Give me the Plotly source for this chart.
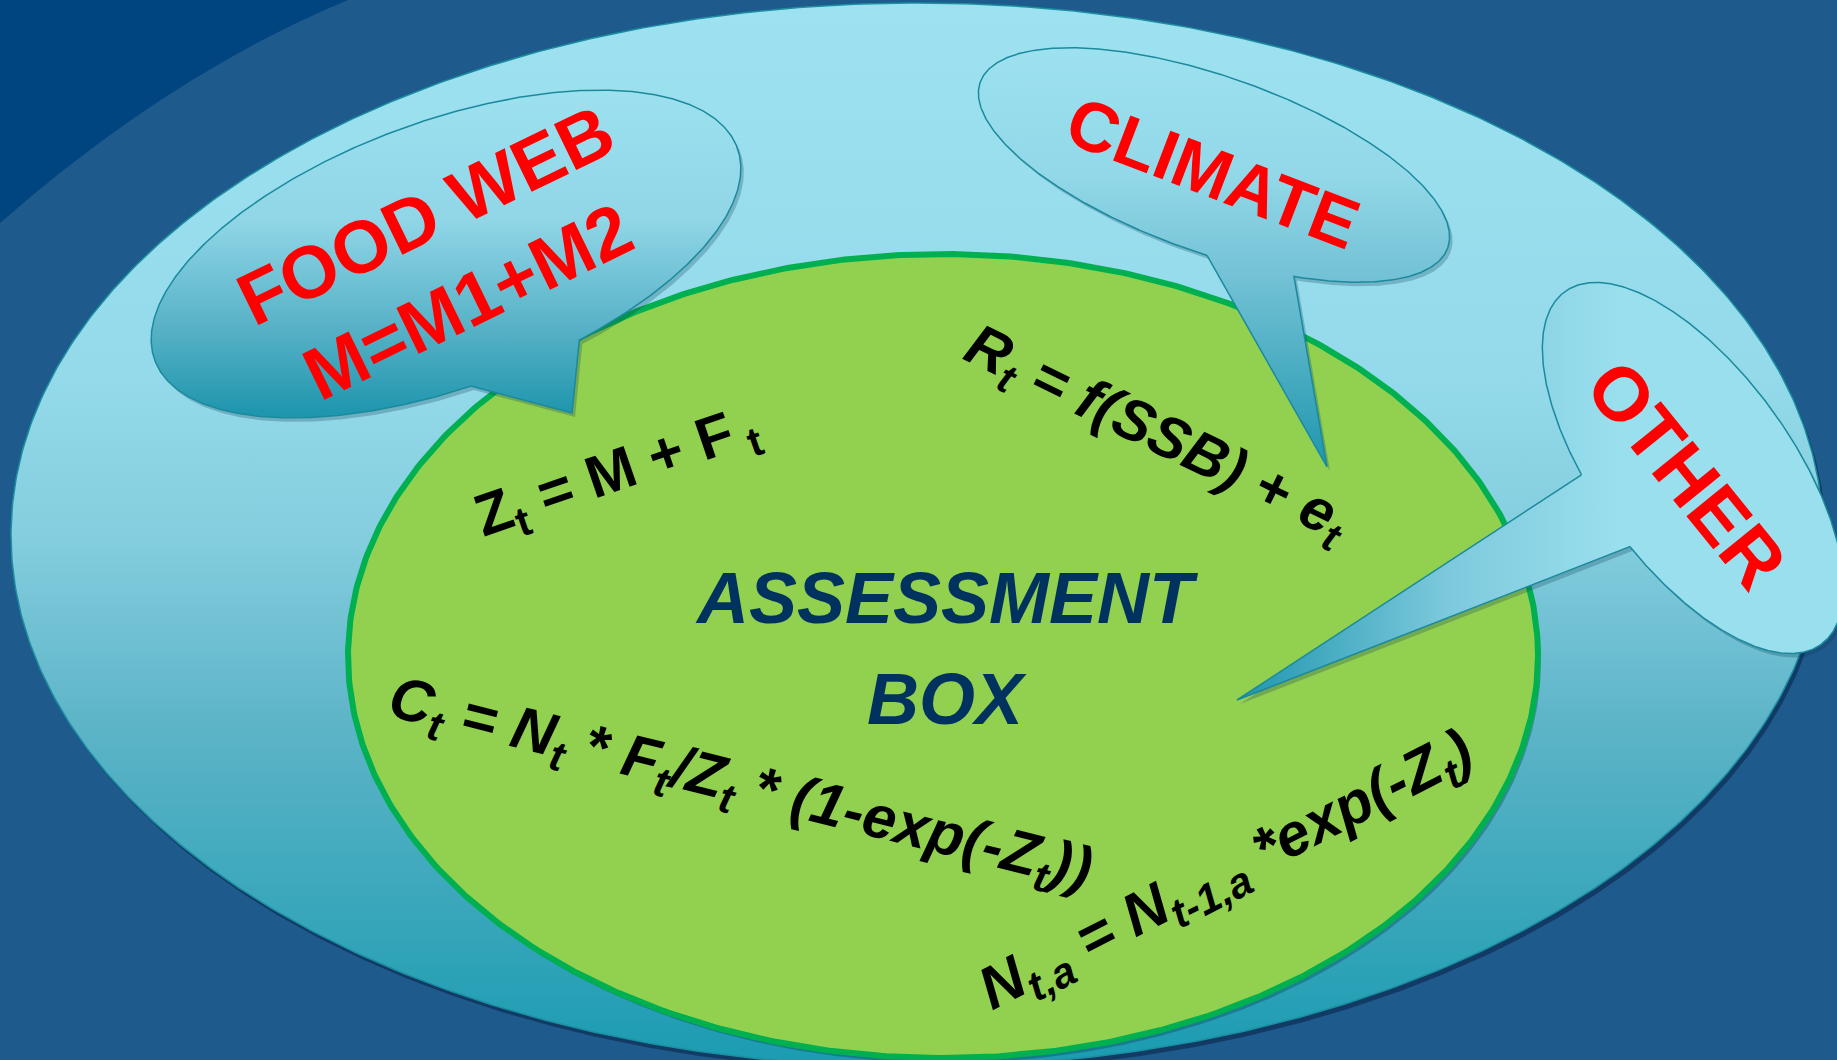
import numpy as np
import plotly.graph_objects as go

W, H = 1837, 1060

# ---------------- text content ----------------
bubble_labels = ["<b>FOOD WEB<br>M=M1+M2</b>", "<b>CLIMATE</b>", "<b>OTHER</b>"]
centre_labels = ["<b><i>ASSESSMENT</i></b>", "<b><i>BOX</i></b>"]
equation_texts = [
    "<b>Z<sub>t</sub> = M + F<sub> t</sub></b>",
    "<b><i>R<sub>t</sub> = f(SSB) + e<sub>t</sub></i></b>",
    "<b><i>C<sub>t</sub> = N<sub>t</sub> * F<sub>t</sub>/Z<sub>t</sub> * (1-exp(-Z<sub>t</sub>))</i></b>",
    "<b><i>N<sub>t,a</sub> = N<sub>t-1,a</sub> *exp(-Z<sub>t</sub>)</i></b>",
]

# ---------------- geometry (pixel space, y downwards) ----------------
ell_cx = [917, 943]
ell_cy = [535, 656]
ell_a = [906, 595]
ell_b = [532, 402]

bub_cx = [446, 1214, 1693]
bub_cy = [254, 165, 468]
bub_a = [310, 248, 218]
bub_b = [133, 88, 98]
bub_tilt = [-20, 19.5, 54]
bub_base1 = [(469, 378), (1207, 257), (1588, 472)]
bub_base2 = [(578, 337), (1295, 275), (1637, 540)]
bub_tip = [(572, 413), (1327, 467), (1237, 700)]

bub_text_x = [446, 1213, 1687]
bub_text_y = [258, 173, 474]
bub_text_angle = [-26, 21, 51]
bub_text_size = [74, 70, 76]

centre_x = [947, 947]
centre_y = [598, 699]
centre_size = [72, 72]

eq_x = [617, 1157, 740, 1227]
eq_y = [474, 436, 787, 873]
eq_angle = [-19, 26, 14, -27]
eq_size = [59, 59, 60, 60]

SANS = "Liberation Sans, Arial, sans-serif"


def ellipse(cx, cy, a, b, tilt=0.0, n=721):
    t = np.linspace(0, 2 * np.pi, n)
    ph = np.radians(tilt)
    x = cx + a * np.cos(t) * np.cos(ph) - b * np.sin(t) * np.sin(ph)
    y = cy + a * np.cos(t) * np.sin(ph) + b * np.sin(t) * np.cos(ph)
    return x, y


def bubble(cx, cy, a, b, tilt, p1, p2, tip, n=720):
    x, y = ellipse(cx, cy, a, b, tilt, n + 1)
    x, y = x[:-1], y[:-1]
    i1 = int(np.argmin((x - p1[0]) ** 2 + (y - p1[1]) ** 2))
    i2 = int(np.argmin((x - p2[0]) ** 2 + (y - p2[1]) ** 2))
    d = (i2 - i1) % n
    if d > n / 2:
        i1, i2 = i2, i1
        d = n - d
    idx = [(i2 + k) % n for k in range(n - d + 1)]
    xs = list(x[idx]) + [tip[0], x[i2]]
    ys = list(y[idx]) + [tip[1], y[i2]]
    return np.array(xs), np.array(ys)


fig = go.Figure()

# outer context ellipse: shadow + gradient body
x, y = ellipse(ell_cx[0], ell_cy[0], ell_a[0], ell_b[0])
fig.add_trace(go.Scatter(x=x + 3, y=y + 5, mode="lines", fill="toself",
                         fillcolor="rgba(5,35,70,0.55)", line=dict(width=0),
                         hoverinfo="skip"))
fig.add_trace(go.Scatter(
    x=x, y=y, mode="lines", fill="toself",
    fillgradient=dict(type="vertical", start=0, stop=1067,
                      colorscale=[[0, "#9EE2F1"], [0.35, "#94DAEA"], [0.5, "#84CEDF"],
                                  [0.68, "#5DB4C7"], [1, "#1A9BB1"]]),
    line=dict(color="#1B8FA0", width=1.5), hoverinfo="skip"))

# assessment box ellipse
x, y = ellipse(ell_cx[1], ell_cy[1], ell_a[1], ell_b[1])
fig.add_trace(go.Scatter(x=x + 3, y=y + 5, mode="lines", fill="toself",
                         fillcolor="rgba(10,60,80,0.35)", line=dict(width=0),
                         hoverinfo="skip"))
fig.add_trace(go.Scatter(x=x, y=y, mode="lines", fill="toself", fillcolor="#92D050",
                         line=dict(color="#00B050", width=6), hoverinfo="skip"))

# speech bubbles
grads = [
    dict(type="vertical", start=90, stop=413,
         colorscale=[[0, "#9DE1F0"], [0.4, "#90D6E7"], [0.75, "#55B0C5"], [1, "#1F96AE"]]),
    dict(type="vertical", start=50, stop=467,
         colorscale=[[0, "#9DE1F0"], [0.3, "#92D8E8"], [0.55, "#72C1D4"], [1, "#1F96AE"]]),
    dict(type="horizontal", start=1237, stop=1620,
         colorscale=[[0, "#1F96AE"], [0.55, "#7DC9DC"], [1, "#9ADFEE"]]),
]
for i in range(3):
    bx, by = bubble(bub_cx[i], bub_cy[i], bub_a[i], bub_b[i], bub_tilt[i],
                    bub_base1[i], bub_base2[i], bub_tip[i])
    fig.add_trace(go.Scatter(x=bx + 3, y=by + 4, mode="lines", fill="toself",
                             fillcolor="rgba(10,50,80,0.25)", line=dict(width=0),
                             hoverinfo="skip"))
    fig.add_trace(go.Scatter(x=bx, y=by, mode="lines", fill="toself",
                             fillgradient=grads[i],
                             line=dict(color="#1A8A9C", width=1.5), hoverinfo="skip"))

# dark top-left corner
fig.add_shape(type="path", path="M 0,0 L 348,0 Q 170,74 0,223 Z",
              xref="x", yref="y", fillcolor="#00457F", line=dict(width=0), layer="below")

# bubble labels
for i in range(3):
    fig.add_annotation(x=bub_text_x[i], y=bub_text_y[i], xref="x", yref="y",
                       text=bubble_labels[i], showarrow=False, textangle=bub_text_angle[i],
                       font=dict(family=SANS, size=bub_text_size[i], color="#FF0000"))

for i in range(2):
    fig.add_annotation(x=centre_x[i], y=centre_y[i], xref="x", yref="y",
                       text=centre_labels[i], showarrow=False,
                       font=dict(family=SANS, size=centre_size[i], color="#00325F"))

for i in range(4):
    fig.add_annotation(x=eq_x[i], y=eq_y[i], xref="x", yref="y", text=equation_texts[i],
                       showarrow=False, textangle=eq_angle[i],
                       font=dict(family=SANS, size=eq_size[i], color="#000000"))

fig.update_layout(
    width=W, height=H, margin=dict(l=0, r=0, t=0, b=0),
    paper_bgcolor="#1F5A8C", plot_bgcolor="#1F5A8C", showlegend=False,
    xaxis=dict(range=[0, W], visible=False, fixedrange=True),
    yaxis=dict(range=[H, 0], visible=False, fixedrange=True),
)

fig.write_html("out.html", config={"displayModeBar": False, "staticPlot": True},
               post_script="document.body.style.margin='0';document.body.style.overflow='hidden';")
